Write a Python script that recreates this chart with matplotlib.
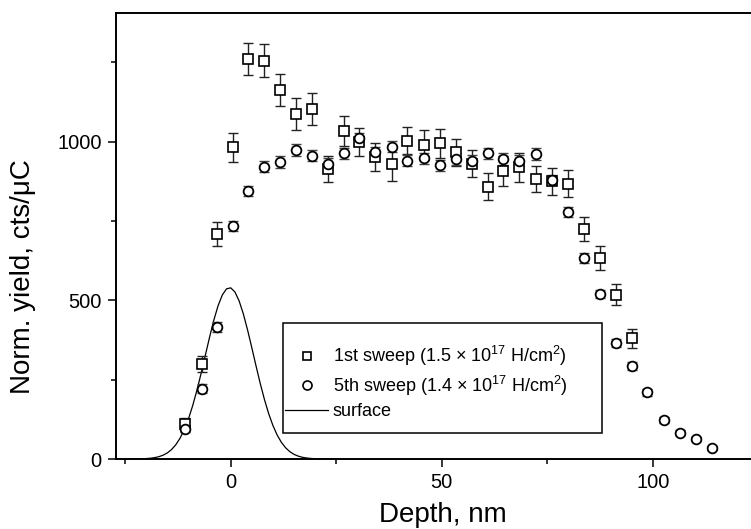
import matplotlib

matplotlib.use("Agg")
import matplotlib.pyplot as plt
from matplotlib.lines import Line2D
from matplotlib.patches import Rectangle

plt.rcParams["font.family"] = ["Liberation Sans", "DejaVu Sans"]
plt.rcParams["mathtext.fontset"] = "custom"
plt.rcParams["mathtext.rm"] = "Liberation Sans"
plt.rcParams["mathtext.it"] = "Liberation Sans:italic"

# depth grid (nm); 1st sweep stops at 95 nm
depth = [-10.8, -6.9, -3.2, 0.5, 4.0, 7.9, 11.7, 15.5, 19.3, 23.1, 26.9, 30.5,
         34.3, 38.1, 41.8, 45.8, 49.5, 53.4, 57.1, 61.0, 64.5, 68.2, 72.3, 76.1,
         80.0, 83.6, 87.5, 91.4, 95.0, 98.7, 102.7, 106.5, 110.3, 114.0]

yield_1st = [110, 300, 708, 982, 1260, 1255, 1163, 1088, 1103, 914, 1032, 998,
             951, 930, 1003, 990, 994, 966, 930, 858, 907, 919, 883, 875,
             867, 725, 634, 518, 380]
err_1st = [18, 25, 38, 45, 51, 53, 50, 50, 50, 42, 47, 45,
           43, 55, 42, 47, 45, 43, 43, 43, 46, 45, 41, 42,
           42, 38, 37, 34, 30]

yield_5th = [96, 222, 416, 733, 844, 921, 935, 974, 956, 930, 963, 1010,
             966, 984, 940, 947, 925, 945, 940, 963, 945, 940, 961, 880,
             778, 634, 520, 366, 293, 210, 123, 83, 63, 34]
err_5th = [12, 14, 15, 16, 16, 18, 18, 18, 18, 18, 18, 18,
           18, 18, 18, 18, 18, 18, 18, 18, 18, 18, 18, 16,
           16, 15, 14, 13, 12, 10, 9, 8, 7, 6]

# surface peak, sampled off the drawn curve
surf_depth = [-25, -22, -21, -20, -19, -18, -17, -16, -15, -14, -13, -12, -11,
              -10, -9, -8, -7, -6, -5, -4, -3, -2, -1, 0, 1, 2, 3, 4, 5, 6,
              7, 8, 9, 10, 11, 12, 13, 14, 15, 16, 17, 18, 19, 20, 21, 22, 25]
surf_yield = [0.0, 0.4, 0.7, 1.4, 2.5, 4.4, 7.4, 12.2, 19.4, 30.1, 45.2, 65.7,
              92.8, 127, 168.6, 216.9, 270.7, 327.6, 384.4, 437.5, 482.7, 516.5,
              536, 539.3, 526.1, 497.8, 456.7, 406.3, 350.5, 293.2, 237.9, 187.1,
              142.7, 105.6, 75.7, 52.7, 35.5, 23.2, 14.7, 9.1, 5.4, 3.1, 1.8,
              1.0, 0.5, 0.3, 0.0]

labels = ["1st sweep (1.5 \u00d7 10$^{17}$ H/cm$^{2}$)",
          "5th sweep (1.4 \u00d7 10$^{17}$ H/cm$^{2}$)",
          "surface"]

fig = plt.figure(figsize=(7.51, 5.29), dpi=100)
ax = fig.add_axes([0.1538, 0.1323, 0.8727, 0.8431])

ax.plot(surf_depth, surf_yield, color="black", lw=0.9, zorder=1)

n1 = len(yield_1st)
ax.errorbar(depth[:n1], yield_1st, yerr=err_1st, fmt="none", ecolor="#222222",
            elinewidth=1.0, capsize=3.6, capthick=1.0, zorder=2)
ax.plot(depth[:n1], yield_1st, ls="none", marker="s", ms=6.6, mfc="white",
        mec="black", mew=1.2, zorder=3)

ax.errorbar(depth, yield_5th, yerr=err_5th, fmt="none", ecolor="#444444",
            elinewidth=1.0, capsize=3.6, capthick=1.0, zorder=2)
ax.plot(depth, yield_5th, ls="none", marker="o", ms=7.0, mfc="white",
        mec="black", mew=1.3, zorder=3)

ax.set_xlim(-27.3, 128)
ax.set_ylim(0, 1405)
ax.set_xticks([0, 50, 100])
ax.set_xticks([-25, 25, 75, 125], minor=True)
ax.set_yticks([0, 500, 1000])
ax.set_yticks([250, 750, 1250], minor=True)
ax.tick_params(which="major", direction="out", length=6, width=1.1,
               labelsize=14.5, pad=4)
ax.tick_params(which="minor", direction="out", length=3.5, width=1.1)
for side in ["left", "bottom", "top", "right"]:
    ax.spines[side].set_linewidth(1.4)

ax.set_xlabel("Depth, nm", fontsize=20)
ax.set_ylabel("Norm. yield, cts/\u03bcC", fontsize=20)
ax.xaxis.set_label_coords(0.5, -0.097)
ax.yaxis.set_label_coords(-0.121, 0.41)

handles = [
    Line2D([], [], ls="none", marker="s", ms=6, mfc="white", mec="black", mew=1.2),
    Line2D([], [], ls="none", marker="o", ms=6.5, mfc="white", mec="black", mew=1.2),
    Line2D([], [], color="black", lw=0.9),
]
ax.legend(handles, labels, loc="upper left", bbox_to_anchor=(0.2586, 0.258),
          frameon=False, fontsize=13, borderpad=0, borderaxespad=0,
          handlelength=2.4, handletextpad=0.25, labelspacing=0.3)
ax.add_patch(Rectangle((0.2551, 0.0576), 0.4867, 0.2464, transform=ax.transAxes,
                       fill=False, lw=1.1, ec="black", zorder=4))

fig.savefig("out.png", dpi=100)
